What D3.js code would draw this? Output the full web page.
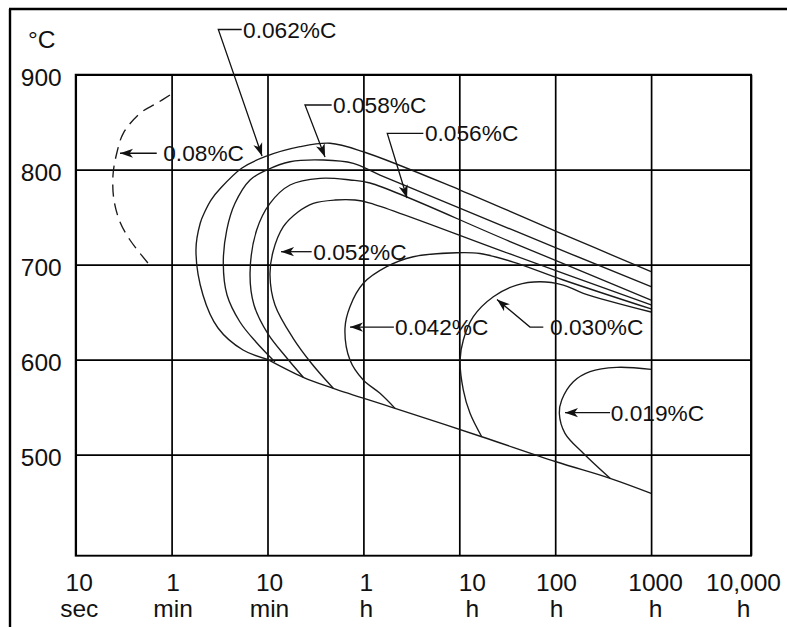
<!DOCTYPE html>
<html><head><meta charset="utf-8">
<script src="https://cdn.jsdelivr.net/npm/d3@7"></script>
<style>html,body{margin:0;padding:0;background:#fff;} svg{display:block;}</style>
</head><body>
<svg id="chart" width="787" height="627"></svg>
<script>
// ---------- data ----------
const timeTicks = ["10","1","10","1","10","100","1000","10,000"];
const timeUnits = ["sec","min","min","h","h","h","h","h"];
const tempTicks = [900, 800, 700, 600, 500];

// points: [time grid index (0 = 10 sec ... 7 = 10,000 h), temperature °C]
const c080 = [[0.983,878.6],[0.845,869.9],[0.671,859.4],[0.496,838.3],[0.428,817.3],[0.389,794.4],[0.399,768],[0.462,745],[0.566,726],[0.753,701.8]];
const c062 = [[2.0,600.4],[1.745,610.2],[1.484,633.4],[1.327,668.1],[1.254,715.5],[1.299,743.9],[1.345,755.5],[1.411,768.1],[1.512,780.7],[1.734,801.8],[1.974,813.7],[2.339,824.2],[2.652,827.8],[2.999,818.9],[4.008,778.6],[5.009,735.2],[6.0,692.6]];
const c058 = [[2.078,597.6],[1.880,618.6],[1.713,639.7],[1.578,668.1],[1.539,701.5],[1.575,736.5],[1.661,764.6],[1.818,789.2],[1.992,799.7],[2.235,808.4],[2.582,810.2],[2.895,806.7],[3.173,794.4],[4.581,735.5],[6.0,676.8]];
const c056 = [[2.373,581.5],[2.193,602.8],[2.005,627.1],[1.859,657.6],[1.818,691.3],[1.887,736.5],[2.026,764.6],[2.235,783.9],[2.548,790.9],[2.860,789.2],[3.069,786],[4.529,724.4],[6.0,662.8]];
const c052 = [[2.686,569.9],[2.464,595.5],[2.266,622.8],[2.078,657.6],[2.026,689.2],[2.057,713.4],[2.165,740],[2.318,755.5],[2.478,764.6],[2.704,768.1],[2.913,768.1],[3.069,764.9],[4.529,711.3],[6.0,657.6]];
const c042 = [[3.330,548.8],[3.173,564.6],[2.999,578.6],[2.860,599.7],[2.808,633.1],[2.860,655.8],[2.999,680.4],[3.243,697.9],[3.520,708.4],[3.973,712.6],[4.216,711.8],[4.563,702.8],[5.085,683.9],[6.0,653.4]];
const c030 = [[4.234,518.9],[4.112,543.6],[4.042,568.1],[4.008,599.7],[4.042,620.7],[4.146,645.3],[4.355,666.3],[4.599,678.6],[4.842,682.1],[5.085,678.6],[5.293,669.9],[6.0,650.2]];
const c019 = [[5.572,475.2],[5.293,501.5],[5.102,522.5],[5.043,543.6],[5.068,557.6],[5.189,576.8],[5.363,587.4],[5.641,592],[6.0,589.9]];
const lowerLine = [[2.0,600.4],[2.373,581.5],[2.686,569.9],[3.330,548.8],[4.234,518.9],[5.009,492.6],[5.572,475.2],[6.0,459.4]];

const labels = ["0.08%C","0.062%C","0.058%C","0.056%C","0.052%C","0.042%C","0.030%C","0.019%C"];
// label anchor [index, °C] and leader path (last point = arrow tip)
const labelAt = [[0.913,817.3],[1.745,947.6],[2.683,868.1],[3.642,838.3],[2.478,713.7],[3.330,634.4],[4.946,634.7],[5.579,544.2]];
const leaders = [
  [[0.845,817.3],[0.462,817.3]],
  [[1.731,947.6],[1.487,947.6],[1.943,814.4]],
  [[2.669,868.1],[2.391,868.1],[2.600,813.4]],
  [[3.625,838.3],[3.249,838.3],[3.455,770.2]],
  [[2.461,713.7],[2.141,713.7]],
  [[3.318,634.4],[2.860,634.4]],
  [[4.876,634.4],[4.737,634.4],[4.393,663.4]],
  [[5.572,544.2],[5.102,544.2]]
];

// ---------- layout ----------
const svg = d3.select("#chart");
const FONT = "'Liberation Sans', Arial, Helvetica, sans-serif";
const x = d3.scaleLinear().domain([0, 6, 7]).range([75.7, 651.1, 751]);
const y = d3.scaleLinear().domain([393.7, 900]).range([555.7, 74.7]);
const W = x(7) - x(0), H = y(393.7) - y(900);

// outer frame (left & top)
svg.append("line").attr("x1",10).attr("y1",9).attr("x2",10).attr("y2",627).attr("stroke","#000").attr("stroke-width",2.4);
svg.append("line").attr("x1",9).attr("y1",9).attr("x2",787).attr("y2",9).attr("stroke","#000").attr("stroke-width",2.6);

// y axis with grid
const gy = svg.append("g").attr("transform",`translate(${x(0)},0)`)
  .call(d3.axisLeft(y).tickValues(tempTicks).tickSize(-W).tickPadding(14));
gy.select(".domain").remove();
gy.selectAll(".tick line").attr("stroke","#000").attr("stroke-width",1.7);
gy.selectAll(".tick text").attr("font-family",FONT).attr("font-size",24.5).attr("fill","#111").attr("dy","0.46em");

// x axis with grid
const labelShift = [3, 1, 1.5, 2.5, 12.5, 0.8, 4, -8];
const gx = svg.append("g").attr("transform",`translate(0,${y(393.7)})`)
  .call(d3.axisBottom(x).tickValues(d3.range(8)).tickSize(-H).tickFormat(""));
gx.select(".domain").remove();
gx.selectAll(".tick line").attr("stroke","#000").attr("stroke-width",1.7);
gx.selectAll(".tick text").remove();
gx.selectAll(".tick").each(function(d){
  const t = d3.select(this).append("text").attr("font-family",FONT).attr("font-size",24.5)
    .attr("fill","#111").attr("text-anchor","middle");
  t.append("tspan").attr("x",labelShift[d]).attr("y",35).text(timeTicks[d]);
  t.append("tspan").attr("x",labelShift[d]).attr("y",61.5).text(timeUnits[d]);
});

// plot border
svg.append("rect").attr("x",x(0)).attr("y",y(900)).attr("width",W).attr("height",H)
  .attr("fill","none").attr("stroke","#000").attr("stroke-width",1.9);

// °C unit
svg.append("text").attr("x",28).attr("y",48).attr("font-family",FONT).attr("font-size",24.5).attr("fill","#111").text("°C");

// curves
const line = d3.line().x(d=>x(d[0])).y(d=>y(d[1])).curve(d3.curveCatmullRom.alpha(0.5));
const curves = [c080, c062, c058, c056, c052, c042, c030, c019];
curves.forEach((pts,i)=>{
  svg.append("path").attr("d",line(pts)).attr("fill","none").attr("stroke","#1a1a1a")
    .attr("stroke-width",1.35).attr("stroke-dasharray", i===0 ? "12,7" : null);
});
svg.append("path").attr("d",d3.line().x(d=>x(d[0])).y(d=>y(d[1])).curve(d3.curveCatmullRom.alpha(0.5))(lowerLine))
  .attr("fill","none").attr("stroke","#1a1a1a").attr("stroke-width",1.35);

// labels + leaders with arrowheads
labels.forEach((lab,i)=>{
  const pts = leaders[i].map(p=>[x(p[0]), y(p[1])]);
  svg.append("path").attr("d",d3.line()(pts)).attr("fill","none").attr("stroke","#111").attr("stroke-width",1.3);
  const [tx,ty] = pts[pts.length-1], [px,py] = pts[pts.length-2];
  const ang = Math.atan2(ty-py, tx-px), L = 13, hw = 4.6, notch = 3.5;
  const ca = Math.cos(ang), sa = Math.sin(ang);
  const bx = tx - L*ca, by = ty - L*sa;
  const head = [[tx,ty],[bx - hw*sa, by + hw*ca],[tx-(L-notch)*ca, ty-(L-notch)*sa],[bx + hw*sa, by - hw*ca]];
  svg.append("path").attr("d",d3.line()(head)+"Z").attr("fill","#111");
  svg.append("text").attr("x",x(labelAt[i][0])).attr("y",y(labelAt[i][1])).attr("dy","0.36em")
    .attr("font-family",FONT).attr("font-size",22.7).attr("fill","#111").text(lab);
});
</script>
</body></html>
